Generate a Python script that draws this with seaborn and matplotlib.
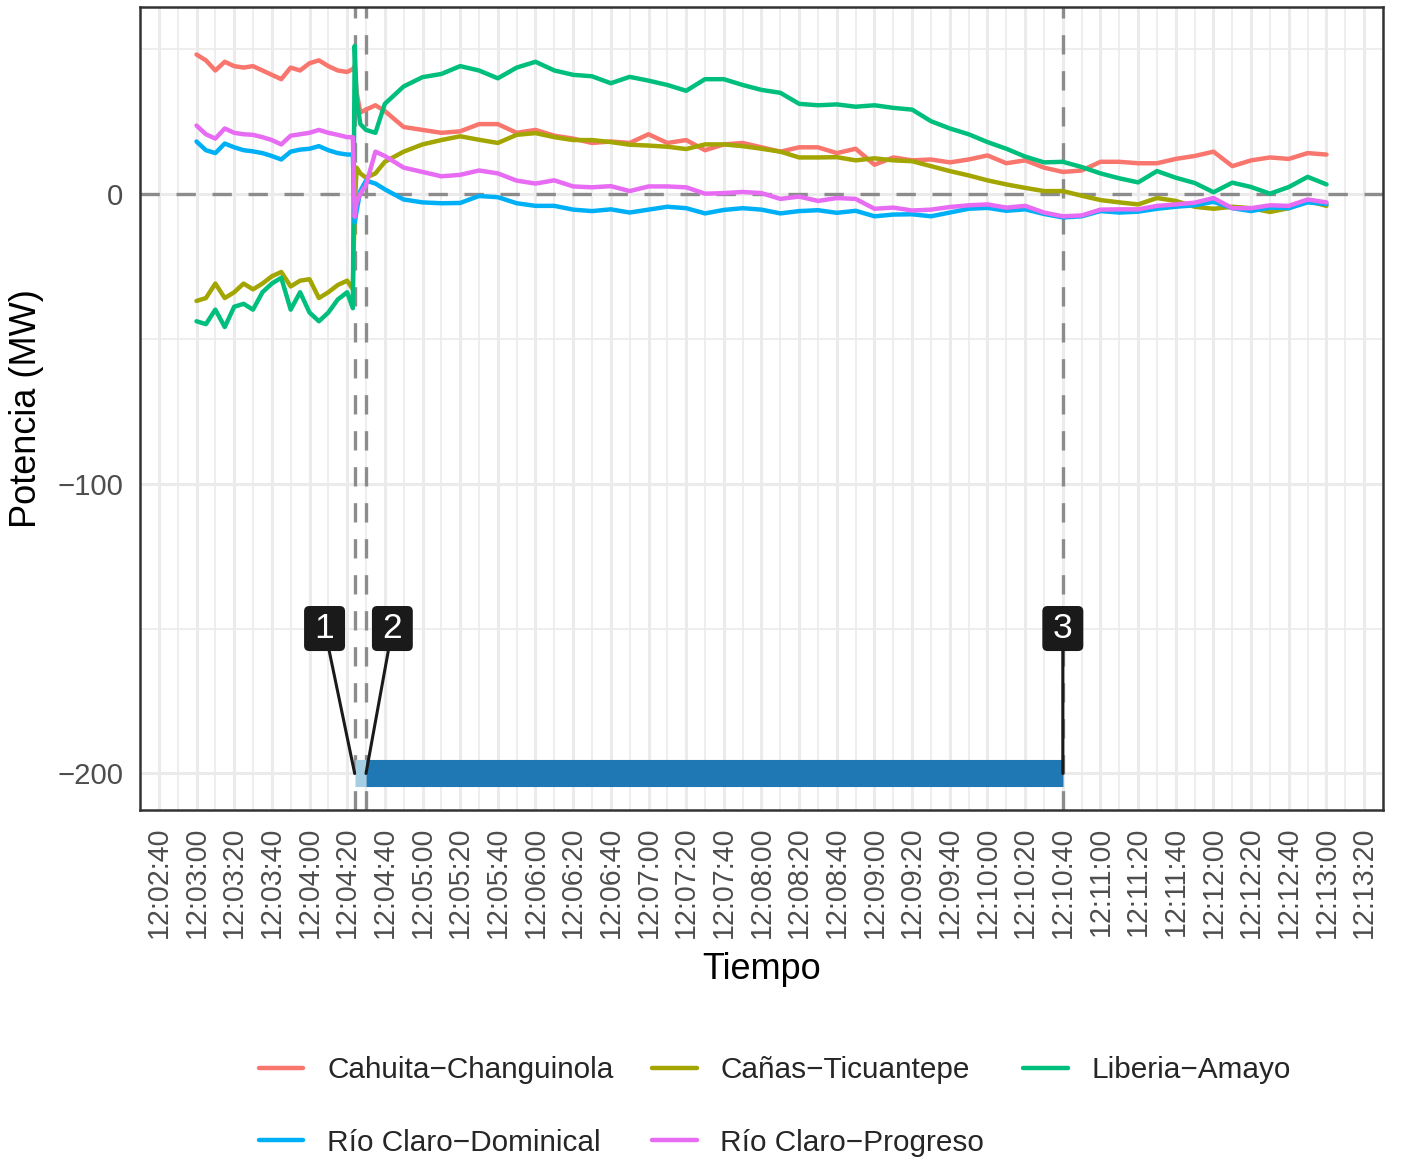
import matplotlib.pyplot as plt
import matplotlib.dates as mdates
from matplotlib.lines import Line2D
from matplotlib.patches import BoxStyle
import seaborn as sns
import pandas as pd

plt.switch_backend('Agg')

# Series, seconds after 12:03:00
inicio = pd.Timestamp('2024-01-01 12:03:00')
segundos = [0, 5, 10, 15, 20, 25, 30, 35, 40, 45, 50, 55, 60, 65, 70, 75, 80, 83,
            84, 85, 87, 90, 95, 100,
            110, 120, 130, 140, 150, 160, 170, 180, 190, 200,
            210, 220, 230, 240, 250, 260, 270, 280, 290, 300,
            310, 320, 330, 340, 350, 360, 370, 380, 390, 400,
            410, 420, 430, 440, 450, 460, 470, 480, 490, 500,
            510, 520, 530, 540, 550, 560, 570, 580, 590, 600]

cahuita = [48, 46, 42.5, 45.5, 44, 43.5, 44, 42.5, 41, 39.5, 43.5, 42.5, 45, 46, 44, 42.5, 42, 43,
           44, 35, 28, 29, 30.5, 28.5,
           23, 22, 21, 21.5, 24, 24, 21, 22, 20, 19,
           17.5, 18, 17.5, 20.5, 17.5, 18.5, 15, 17, 17.5, 16,
           14.5, 16, 16, 14, 15.5, 10, 12.5, 11.5, 11.8, 10.8,
           11.8, 13.2, 10.5, 11.5, 9, 7.5, 8, 11, 11, 10.5,
           10.5, 12, 13, 14.5, 9.5, 11.5, 12.5, 12, 14, 13.5]

canas = [-37, -36, -31, -36, -34, -31, -33, -31, -28.5, -27, -32, -30, -29.5, -36, -34, -31.5, -30, -33,
         -5, 9, 7, 5.5, 7, 11,
         14.5, 17, 18.5, 19.8, 18.6, 17.5, 20.3, 20.9, 19.5, 18.5,
         18.5, 17.8, 16.9, 16.6, 16.2, 15.4, 17, 17, 16.4, 15.5,
         14.5, 12.5, 12.5, 12.6, 11.5, 12.2, 11.5, 11.2, 9.5, 7.8,
         6.3, 4.6, 3.2, 2, 0.9, 0.9, -0.7, -2.2, -3, -3.7,
         -1.5, -2.5, -4.5, -5.2, -4.5, -5, -6.3, -5, -2.5, -4.2]

liberia = [-44, -45, -40, -46, -39, -38, -40, -34, -31, -29, -40, -34, -41, -44, -41, -36.5, -34, -39.5,
           51, 33, 24, 22, 21, 31,
           37, 40.2, 41.3, 44, 42.5, 39.8, 43.5, 45.5, 42.5, 41,
           40.5, 38.1, 40.3, 39, 37.5, 35.5, 39.5, 39.5, 37.5, 35.8,
           34.8, 31, 30.5, 30.8, 30, 30.5, 29.6, 29, 25, 22.5,
           20.5, 17.8, 15.5, 12.8, 10.8, 11, 9.2, 7, 5.3, 3.9,
           7.8, 5.5, 3.7, 0.5, 3.8, 2.3, 0, 2.3, 5.8, 3.2]

dominical = [18, 15, 14, 17.3, 16, 15, 14.6, 14, 13, 11.8, 14.5, 15.2, 15.5, 16.4, 15, 14, 13.5, 13.5,
             -10, -6, 1, 4.5, 3.5, 1.5,
             -2, -3, -3.3, -3.2, -0.8, -1.2, -3.3, -4.2, -4.2, -5.5,
             -6, -5.4, -6.5, -5.5, -4.5, -5, -6.8, -5.6, -5, -5.5,
             -6.8, -6, -5.7, -6.6, -5.9, -7.8, -7.2, -7.1, -7.8, -6.5,
             -5.2, -4.9, -5.9, -5.4, -7, -8.2, -7.8, -6, -6.5, -6.2,
             -5.2, -4.5, -4, -2.8, -5, -6, -4.8, -5, -3, -3.6]

progreso = [23.5, 20.5, 19, 22.5, 21, 20.5, 20.3, 19.5, 18.5, 17, 20, 20.5, 21, 22, 21, 20.3, 19.5, 19.5,
            -8, -3, 0, 3, 14.5, 13,
            9, 7.5, 6, 6.5, 8, 7, 4.5, 3.5, 4.6, 2.5,
            2.2, 2.6, 0.9, 2.5, 2.5, 2.2, 0, 0.2, 0.6, 0.2,
            -1.8, -1, -2.5, -1.5, -1.8, -5.2, -4.8, -5.8, -5.5, -4.6,
            -4, -3.7, -4.8, -4.2, -6.5, -7.8, -7.5, -5.5, -5.4, -5.4,
            -4.2, -3.7, -3.1, -1.5, -5, -5, -4, -4.2, -2, -3]

enlaces = ['Cahuita−Changuinola', 'Cañas−Ticuantepe', 'Liberia−Amayo',
           'Río Claro−Dominical', 'Río Claro−Progreso']
colores = ['#F8766D', '#A3A500', '#00BF7D', '#00B0F6', '#E76BF3']

# Events (seconds after 12:03:00) and their labels
eventos_seg = [84, 90, 460]
etiquetas = ['1', '2', '3']
etiquetas_seg = [68, 104, 460]
etiqueta_y = -150
barra_y = -200
tramo_colores = ['#A6CEE3', '#1F78B4']

series = [cahuita, canas, liberia, dominical, progreso]
filas = []
for nombre, valores in zip(enlaces, series):
    for s, v in zip(segundos, valores):
        filas.append({'tiempo': inicio + pd.Timedelta(seconds=s),
                      'potencia': v, 'enlace': nombre})
df = pd.DataFrame(filas)

sns.set_style('white')
plt.rcParams['font.family'] = ['Liberation Sans', 'DejaVu Sans']
plt.rcParams['axes.unicode_minus'] = True

fig = plt.figure(figsize=(14.01, 11.61), dpi=100)
ax = fig.add_axes([140 / 1401, 1 - 810 / 1161, 1243 / 1401, 803 / 1161])

paleta = dict(zip(enlaces, colores))
sns.lineplot(data=df, x='tiempo', y='potencia', hue='enlace', hue_order=enlaces,
             palette=paleta, linewidth=3.2, estimator=None, legend=False, ax=ax,
             zorder=3)

t = lambda s: inicio + pd.Timedelta(seconds=s)

# reference lines
estilo_guion = dict(color='#8C8C8C', lw=2.4, linestyle=(0, (5.8, 5.0)), zorder=2)
ax.axhline(0, **estilo_guion)
for s in eventos_seg:
    ax.axvline(t(s), **estilo_guion)

# event bar
ax.plot([t(eventos_seg[0]), t(eventos_seg[1])], [barra_y, barra_y],
        color=tramo_colores[0], lw=19.5, solid_capstyle='butt', zorder=4)
ax.plot([t(eventos_seg[1]), t(eventos_seg[2])], [barra_y, barra_y],
        color=tramo_colores[1], lw=19.5, solid_capstyle='butt', zorder=4)


def caja_etiqueta(x0, y0, width, height, mutation_size):
    px = 0.3 * mutation_size
    py = 0.17 * mutation_size
    redondeo = BoxStyle('Round', pad=0, rounding_size=0.15)
    return redondeo(x0 - px, y0 - py, width + 2 * px, height + 2 * py, mutation_size)


for txt, s_lab, s_ev in zip(etiquetas, etiquetas_seg, eventos_seg):
    ax.annotate(txt, xy=(mdates.date2num(t(s_ev)), barra_y),
                xytext=(mdates.date2num(t(s_lab)), etiqueta_y),
                ha='center', va='center', color='white', fontsize=25.5,
                bbox=dict(boxstyle=caja_etiqueta, fc='#1A1A1A', ec='none'),
                arrowprops=dict(arrowstyle='-', color='#1A1A1A', lw=2.2,
                                shrinkA=0, shrinkB=0),
                zorder=5)

# axes and grid
ax.set_xlim(t(-30), t(630))
ax.set_ylim(-212.6, 64.4)
ax.xaxis.set_major_locator(mdates.SecondLocator(bysecond=[0, 20, 40]))
ax.xaxis.set_minor_locator(mdates.SecondLocator(bysecond=[10, 30, 50]))
ax.xaxis.set_major_formatter(mdates.DateFormatter('%H:%M:%S'))
ax.set_yticks([-200, -100, 0])
ax.set_yticks([-150, -50, 50], minor=True)
ax.grid(which='major', color='#EBEBEB', lw=2.2)
ax.grid(which='minor', color='#EBEBEB', lw=1.2)
ax.set_axisbelow(True)

ax.tick_params(axis='x', which='major', rotation=90, labelsize=20.6, colors='#4D4D4D',
               length=8, width=2, pad=4, color='#333333')
ax.tick_params(axis='y', which='major', labelsize=21.2, colors='#4D4D4D',
               length=8, width=2, pad=4, color='#333333')
ax.tick_params(which='minor', length=0)
for lab in ax.get_xticklabels():
    lab.set_va('top')
for sp in ax.spines.values():
    sp.set_visible(True)
    sp.set_color('#333333')
    sp.set_linewidth(1.8)

ax.set_xlabel('Tiempo', fontsize=26, color='black')
ax.set_ylabel('Potencia (MW)', fontsize=26, color='black')
ax.xaxis.set_label_coords(0.5, -0.177)
ax.yaxis.set_label_coords(-0.077, 0.5)

# legend, filled row-wise like the reference
orden = [0, 3, 1, 4, 2]
manijas = [Line2D([0], [0], color=colores[i], lw=3.2) for i in orden]
nombres = [enlaces[i] for i in orden]
fig.legend(manijas, nombres, loc='center', bbox_to_anchor=(0.553, 0.047), ncol=3,
           frameon=False, fontsize=21.4, handlelength=1.5, handletextpad=0.8,
           columnspacing=1.3, labelspacing=1.5)

fig.savefig('out.png', dpi=100)
